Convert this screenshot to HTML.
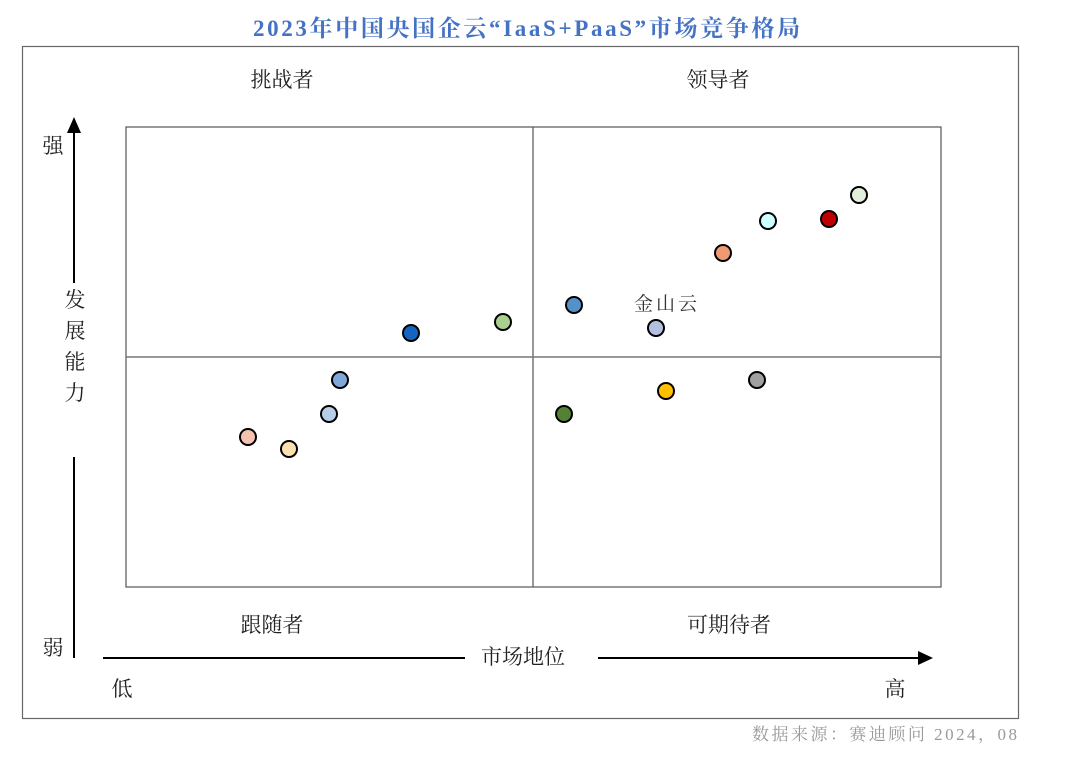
<!DOCTYPE html>
<html><head><meta charset="utf-8"><style>
body{margin:0;background:#fff;}
svg text{font-family:"Liberation Serif","Noto Serif CJK SC","Noto Sans CJK SC",serif;}
</style></head><body>
<svg width="1065" height="768" viewBox="0 0 1065 768" xmlns="http://www.w3.org/2000/svg">
<text x="253" y="36" textLength="547" lengthAdjust="spacing" font-size="23" font-weight="bold" fill="#4472c4">2023年中国央国企云“IaaS+PaaS”市场竞争格局</text>
<rect x="22.5" y="46.5" width="996" height="672" fill="none" stroke="#666" stroke-width="1.2"/>
<rect x="126" y="127" width="815" height="460" fill="none" stroke="#555" stroke-width="1.2"/>
<line x1="533" y1="127" x2="533" y2="587" stroke="#555" stroke-width="1.2"/>
<line x1="126" y1="357" x2="941" y2="357" stroke="#777" stroke-width="1.5"/>
<g font-size="21" fill="#222" text-anchor="middle">
<text x="282" y="87">挑战者</text>
<text x="718" y="87">领导者</text>
<text x="272" y="632">跟随者</text>
<text x="729" y="632">可期待者</text>
<text x="523" y="664">市场地位</text>
<text x="122" y="696">低</text>
<text x="895" y="696">高</text>
<text x="53" y="153">强</text>
<text x="53" y="655">弱</text>
<text x="75" y="307">发</text>
<text x="75" y="338">展</text>
<text x="75" y="369">能</text>
<text x="75" y="400">力</text>
<text x="667" y="310" font-size="19" fill="#333" letter-spacing="3">金山云</text>
</g>
<line x1="74" y1="130" x2="74" y2="283" stroke="#000" stroke-width="2"/>
<polygon points="74,117 67,133 81,133" fill="#000"/>
<line x1="74" y1="457" x2="74" y2="658" stroke="#000" stroke-width="2"/>
<line x1="103" y1="658" x2="465" y2="658" stroke="#000" stroke-width="2"/>
<line x1="598" y1="658" x2="920" y2="658" stroke="#000" stroke-width="2"/>
<polygon points="933,658 918,651 918,665" fill="#000"/>
<g stroke="#000" stroke-width="2">
<circle cx="248" cy="437" r="8" fill="#f4c2b0"/>
<circle cx="289" cy="449" r="8" fill="#fde0b0"/>
<circle cx="329" cy="414" r="8" fill="#b8cde8"/>
<circle cx="340" cy="380" r="8" fill="#7fa8d8"/>
<circle cx="411" cy="333" r="8" fill="#1565c0"/>
<circle cx="503" cy="322" r="8" fill="#a9d08e"/>
<circle cx="574" cy="305" r="8" fill="#5591c8"/>
<circle cx="656" cy="328" r="8" fill="#b4c0e0"/>
<circle cx="723" cy="253" r="8" fill="#f09a74"/>
<circle cx="768" cy="221" r="8" fill="#ccffff"/>
<circle cx="829" cy="219" r="8" fill="#c00000"/>
<circle cx="859" cy="195" r="8" fill="#e2efda"/>
<circle cx="564" cy="414" r="8" fill="#548235"/>
<circle cx="666" cy="391" r="8" fill="#ffc000"/>
<circle cx="757" cy="380" r="8" fill="#a0a0a0"/>
</g>
<text x="752" y="740" textLength="265" lengthAdjust="spacing" font-size="17" fill="#999">数据来源：赛迪顾问  2024，08</text>
</svg>
</body></html>
